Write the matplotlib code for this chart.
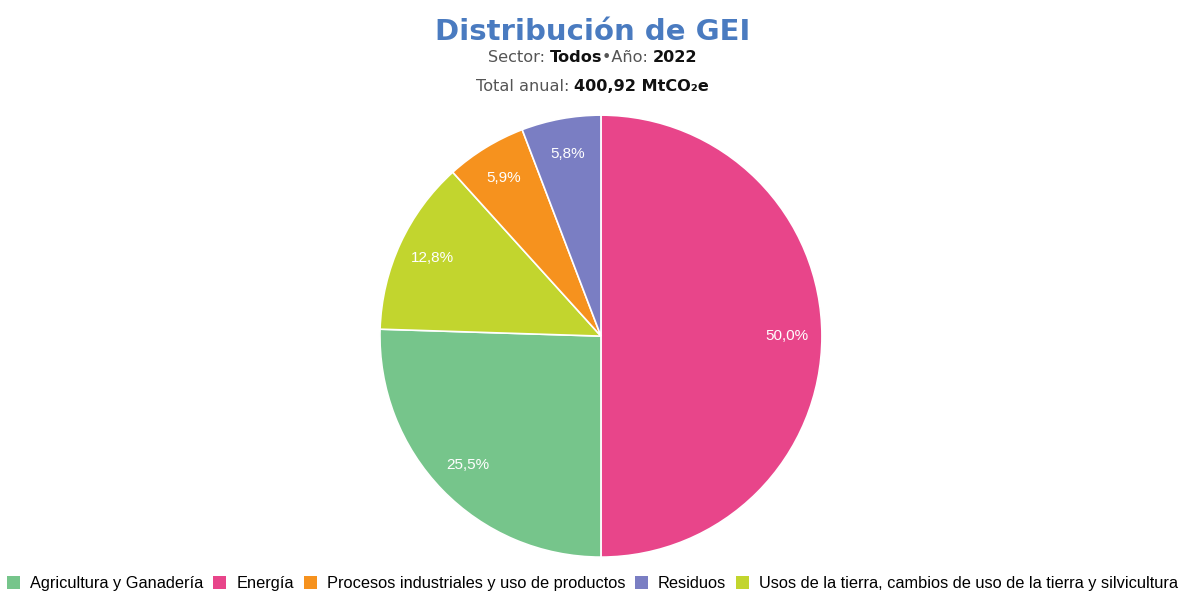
import matplotlib
matplotlib.use("Agg")
import matplotlib.pyplot as plt
from matplotlib.patches import Patch

# Sector shares of total GHG emissions, 2022 (percent)
sectors = ["Agricultura y Ganadería", "Energía", "Procesos industriales y uso de productos",
           "Residuos", "Usos de la tierra, cambios de uso de la tierra y silvicultura"]
shares = [25.5, 50.0, 5.9, 5.8, 12.8]
colors = ["#76C58B", "#E8458A", "#F6921E", "#7A7EC3", "#C2D52E"]
# Clockwise drawing order starting at 12 o'clock
pie_order = [1, 0, 4, 2, 3]

title = "Distribución de GEI"
subtitle_parts = [("Sector: ", "normal", "#555555"), ("Todos", "bold", "#111111"),
                  ("•Año: ", "normal", "#555555"), ("2022", "bold", "#111111")]
total_parts = [("Total anual: ", "normal", "#555555"), ("400,92 MtCO₂e", "bold", "#111111")]

fig = plt.figure(figsize=(11.9, 5.97), dpi=100)
ax = fig.add_axes([0.505 - 0.1857, 0.437 - 0.3702, 0.3714, 0.7404])

vals = [shares[i] for i in pie_order]
cols = [colors[i] for i in pie_order]
wedges, texts, autotexts = ax.pie(
    vals, colors=cols, startangle=90, counterclock=False,
    autopct=lambda p: f"{p:.1f}%".replace(".", ","), pctdistance=0.84,
    wedgeprops=dict(edgecolor="white", linewidth=1.2),
    textprops=dict(color="white", fontsize=11, family="Liberation Sans"))
ax.set_aspect("equal")
ax.set_xlim(-1, 1)
ax.set_ylim(-1, 1)

fig.text(0.498, 0.947, title, ha="center", va="center", fontsize=21,
         fontweight="bold", color="#4A7BC0", family="DejaVu Sans")


def centered_row(parts, y, size):
    renderer = fig.canvas.get_renderer()
    objs = []
    for s, w, c in parts:
        t = fig.text(0, y, s, ha="left", va="center", fontsize=size, fontweight=w,
                     color=c, family=["DejaVu Sans"])
        objs.append(t)
    widths = [t.get_window_extent(renderer).width / fig.bbox.width for t in objs]
    x = 0.498 - sum(widths) / 2
    for t, w in zip(objs, widths):
        t.set_x(x)
        x += w


centered_row(subtitle_parts, 0.903, 11.6)
centered_row(total_parts, 0.855, 11.6)

handles = [Patch(facecolor=c, edgecolor="none") for c in colors]
fig.legend(handles, sectors, loc="lower center", bbox_to_anchor=(0.498, -0.015), ncol=5,
           frameon=False, handlelength=0.8, handleheight=0.8, handletextpad=0.6,
           columnspacing=0.6, prop=dict(family="Liberation Sans", size=11.8))

fig.savefig("out.png", dpi=100, facecolor="white")
